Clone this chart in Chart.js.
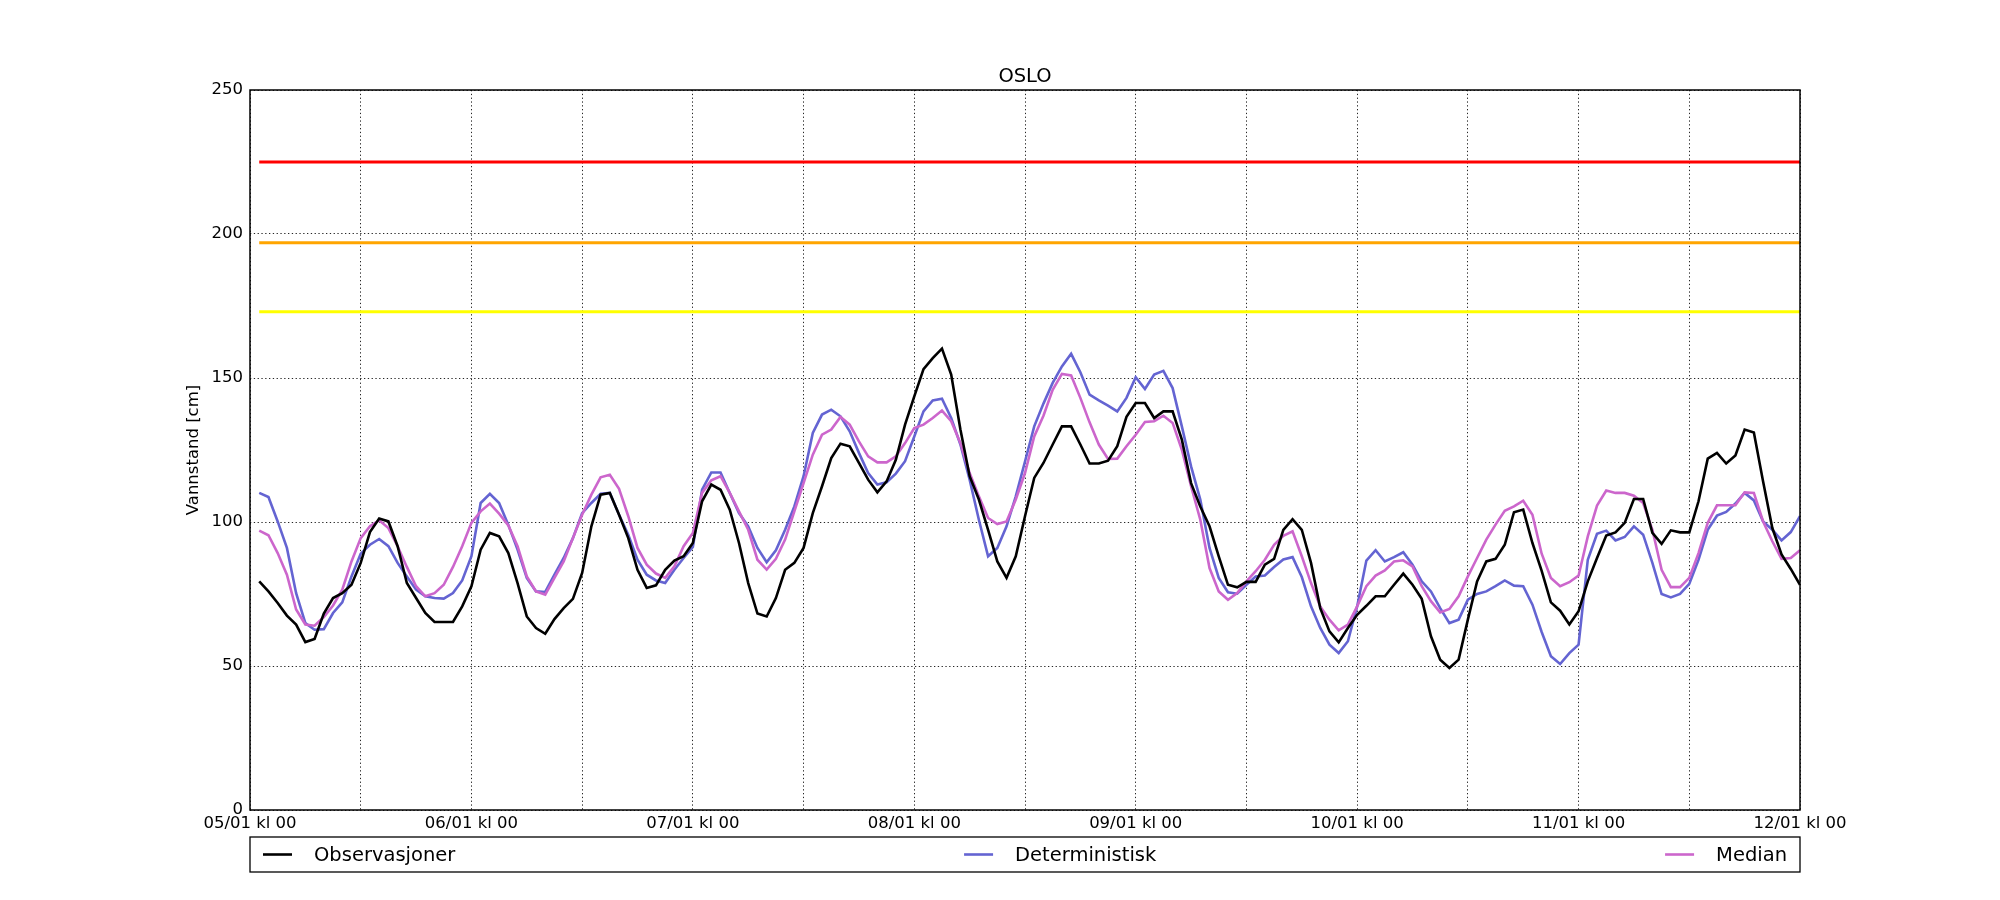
<!DOCTYPE html>
<html>
<head>
<meta charset="utf-8">
<title>OSLO</title>
<script src="https://cdn.jsdelivr.net/npm/chart.js@4.4.1/dist/chart.umd.min.js"></script>
<style>
  html, body { margin: 0; padding: 0; background: #fff; }
  canvas { display: block; }
</style>
</head>
<body>
<canvas id="chart" width="2000" height="900"></canvas>
<script>
// hours after 05/01 kl 00 (one reading per hour)
const hours = Array.from({ length: 168 }, (_, i) => i + 1);

const chartTitle = 'OSLO';
const dayLabels = ['05/01 kl 00', '06/01 kl 00', '07/01 kl 00', '08/01 kl 00',
  '09/01 kl 00', '10/01 kl 00', '11/01 kl 00', '12/01 kl 00'];
const yTicks = [0, 50, 100, 150, 200, 250];

const observasjoner = [
  79.4, 75.9, 71.9, 67.5, 64.4, 58.3, 59.4, 68.2, 73.6, 75.3, 78.2, 85.8, 96.5, 101.2, 100.2, 91.6, 78.8, 73.6, 68.4, 65.3, 65.3, 65.3, 70.7, 77.7, 90.4, 96.2, 95.0, 89.2,
  78.8, 67.2, 63.2, 61.2, 66.3, 70.1, 73.3, 82.3, 98.5, 109.5, 110.1, 102.5, 94.4, 83.4, 77.1, 78.0, 83.4, 86.6, 88.1, 92.7, 107.2, 113.0, 111.2, 104.3, 92.7, 78.8, 68.2, 67.2,
  73.6, 83.4, 85.8, 91.0, 103.1, 112.4, 122.2, 127.2, 126.3, 120.5, 114.7, 110.3, 114.1, 121.6, 133.8, 143.6, 153.1, 156.9, 160.2, 151.2, 132.1, 115.9, 107.8, 97.3, 86.3, 80.6, 88.1, 102.0,
  115.3, 120.5, 126.9, 133.2, 133.2, 126.9, 120.3, 120.3, 121.3, 126.3, 136.5, 141.3, 141.3, 136.1, 138.4, 138.4, 128.6, 113.5, 105.4, 98.5, 88.1, 78.2, 77.3, 79.2, 79.2, 85.2, 87.2, 97.3,
  101.0, 97.3, 85.8, 70.1, 62.0, 58.2, 63.2, 67.8, 70.9, 74.2, 74.2, 78.2, 82.1, 78.2, 73.3, 60.3, 52.2, 49.3, 52.2, 66.1, 79.4, 86.3, 87.2, 92.1, 103.4, 104.3, 92.7, 83.0,
  72.1, 69.2, 64.4, 69.0, 79.4, 87.5, 95.3, 96.4, 99.7, 108.0, 108.0, 96.2, 92.4, 97.1, 96.4, 96.4, 107.2, 122.0, 124.0, 120.3, 123.1, 132.1, 131.1, 114.1, 97.9, 88.7, 83.7, 78.2
];

const deterministisk = [
  110.1, 108.7, 100.2, 91.0, 75.3, 64.9, 62.6, 62.8, 68.4, 72.1, 81.1, 89.0, 92.1, 94.1, 91.6, 85.8, 81.1, 76.5, 74.2, 73.6, 73.4, 75.3, 79.7, 88.1, 106.6, 109.8, 106.6, 99.0,
  90.4, 80.6, 75.9, 75.7, 81.7, 87.5, 94.4, 103.1, 106.6, 109.8, 110.1, 102.5, 95.6, 86.9, 81.7, 79.7, 78.8, 83.4, 87.5, 91.3, 111.2, 117.2, 117.2, 110.1, 103.1, 98.5, 91.0, 86.0,
  90.2, 97.3, 105.4, 115.9, 130.9, 137.3, 139.0, 136.7, 131.5, 124.0, 117.0, 113.0, 113.8, 116.8, 121.1, 129.7, 138.4, 142.2, 142.8, 136.1, 126.9, 114.7, 100.8, 88.1, 91.0, 98.5, 108.9, 121.0,
  133.2, 141.1, 148.3, 154.0, 158.4, 152.0, 144.2, 142.2, 140.4, 138.4, 143.1, 150.3, 146.2, 151.2, 152.5, 146.5, 133.2, 119.3, 107.8, 91.0, 80.6, 75.6, 75.1, 78.2, 81.1, 81.4, 84.4, 87.0,
  87.8, 80.9, 70.7, 63.2, 57.4, 54.5, 58.6, 70.7, 86.6, 90.2, 86.3, 87.8, 89.5, 85.2, 79.4, 75.9, 70.1, 64.9, 66.1, 73.0, 75.0, 75.9, 77.7, 79.7, 77.9, 77.7, 71.3, 61.8,
  53.4, 50.7, 54.5, 57.4, 86.9, 95.9, 97.0, 93.6, 94.8, 98.5, 95.6, 85.8, 75.0, 73.8, 75.0, 78.5, 86.9, 97.3, 102.2, 103.5, 106.4, 110.1, 107.5, 100.2, 97.3, 93.6, 96.5, 102.0
];

const median = [
  97.0, 95.4, 89.2, 81.7, 69.6, 64.4, 64.0, 67.0, 71.0, 76.5, 86.3, 94.4, 98.5, 100.6, 97.9, 91.6, 84.4, 77.7, 74.2, 75.3, 78.2, 84.4, 91.6, 99.7, 103.7, 106.4, 102.9, 98.8,
  91.6, 81.1, 75.9, 74.8, 80.6, 86.3, 94.4, 102.5, 109.5, 115.5, 116.4, 111.5, 102.0, 91.0, 85.2, 82.1, 80.6, 84.6, 91.6, 96.2, 110.1, 114.5, 115.9, 110.1, 103.7, 97.3, 86.9, 83.5,
  87.2, 93.9, 103.7, 113.5, 123.4, 130.3, 132.1, 136.5, 133.8, 128.0, 122.8, 120.7, 120.7, 122.8, 127.4, 132.6, 133.8, 136.1, 138.7, 135.0, 127.4, 117.0, 108.9, 101.4, 99.3, 100.2, 107.8, 117.0,
  129.7, 136.9, 145.9, 151.4, 150.9, 143.1, 134.6, 126.9, 121.9, 122.0, 126.3, 130.3, 134.7, 135.0, 136.9, 134.4, 125.1, 112.4, 100.8, 84.0, 75.9, 73.0, 75.3, 79.4, 82.9, 86.9, 92.1, 95.2,
  96.8, 88.1, 78.8, 70.7, 66.1, 62.4, 64.4, 70.7, 77.7, 81.4, 83.2, 86.3, 86.7, 84.6, 77.7, 72.5, 68.6, 69.8, 74.2, 81.1, 87.5, 93.9, 99.1, 103.9, 105.4, 107.4, 102.5, 89.0,
  80.6, 77.7, 79.1, 81.4, 95.0, 105.7, 110.9, 110.1, 110.1, 109.1, 106.6, 97.3, 83.4, 77.4, 77.4, 80.6, 89.2, 99.7, 105.8, 105.8, 105.8, 110.3, 110.1, 100.2, 93.3, 87.2, 87.5, 90.2
];

// warning levels [cm]
const thresholdLevels = [225, 197, 173];
const thresholdColors = ['#ff0000', '#ffa500', '#ffff00'];

const seriesNames = ['Observasjoner', 'Deterministisk', 'Median'];
const seriesColors = ['#000000', '#6464d2', '#cc66cc'];

const FONT = '"DejaVu Sans", "Liberation Sans", sans-serif';
Chart.defaults.font.family = FONT;
Chart.defaults.color = '#000';

const toPoints = vals => vals.map((v, i) => ({ x: hours[i], y: v }));

const datasets = [];
[observasjoner, deterministisk, median].forEach((vals, i) => {
  datasets.push({
    label: seriesNames[i],
    data: toPoints(vals),
    borderColor: seriesColors[i],
    borderWidth: 2.6,
    pointRadius: 0,
    tension: 0,
    order: [0, 2, 1][i]
  });
});
thresholdLevels.forEach((lvl, i) => {
  datasets.push({
    label: 'level' + i,
    data: [{ x: hours[0], y: lvl }, { x: hours[hours.length - 1], y: lvl }],
    borderColor: thresholdColors[i],
    borderWidth: 3,
    pointRadius: 0,
    order: 5
  });
});

// black frame around the plot area + title centred over it
const frame = {
  id: 'frame',
  afterDatasetsDraw(chart) {
    const { ctx, chartArea: a } = chart;
    ctx.save();
    ctx.strokeStyle = '#000';
    ctx.lineWidth = 1.5;
    ctx.strokeRect(a.left, a.top, a.right - a.left, a.bottom - a.top);
    ctx.font = '19.5px ' + FONT;
    ctx.fillStyle = '#000';
    ctx.textAlign = 'center';
    ctx.textBaseline = 'middle';
    ctx.fillText(chartTitle, (a.left + a.right) / 2, a.top - 13);
    ctx.restore();
  }
};

// matplotlib style boxed legend below the axis, 3 columns expanded
const boxLegend = {
  id: 'boxLegend',
  afterDraw(chart) {
    const { ctx, chartArea: a } = chart;
    const top = a.bottom + 27, h = 35;
    const handle = 29, gap = 22, pad = 13;
    ctx.save();
    ctx.strokeStyle = '#000';
    ctx.lineWidth = 1.3;
    ctx.strokeRect(a.left, top, a.right - a.left, h);
    ctx.font = '19.5px ' + FONT;
    ctx.textBaseline = 'middle';
    const widths = seriesNames.map(n => handle + gap + ctx.measureText(n).width);
    const used = widths.reduce((s, w) => s + w, 0);
    const sep = (a.right - a.left - 2 * pad - used) / (seriesNames.length - 1);
    let x = a.left + pad;
    const y = top + h / 2;
    seriesNames.forEach((n, i) => {
      ctx.strokeStyle = seriesColors[i];
      ctx.lineWidth = 2.6;
      ctx.beginPath();
      ctx.moveTo(x, y);
      ctx.lineTo(x + handle, y);
      ctx.stroke();
      ctx.fillStyle = '#000';
      ctx.fillText(n, x + handle + gap, y + 1);
      x += widths[i] + sep;
    });
    ctx.restore();
  }
};

new Chart(document.getElementById('chart'), {
  type: 'line',
  data: { datasets },
  options: {
    responsive: false,
    animation: false,
    devicePixelRatio: 1,
    layout: { padding: { left: 180, right: 200, top: 90, bottom: 0 } },
    plugins: {
      legend: { display: false },
      tooltip: { enabled: false },
      title: { display: false }
    },
    scales: {
      x: {
        type: 'linear',
        min: 0,
        max: 168,
        afterFit: s => { s.height = 90; },
        ticks: {
          stepSize: 12,
          autoSkip: false,
          maxRotation: 0,
          padding: 4,
          font: { size: 16.5 },
          color: '#000',
          callback: v => (v % 24 === 0 ? dayLabels[v / 24] : '')
        },
        grid: { color: 'rgba(0,0,0,0.85)', lineWidth: 1, drawTicks: false },
        border: { display: false, dash: [1.3, 2.5] }
      },
      y: {
        min: 0,
        max: 250,
        afterFit: s => { s.width = 70; },
        afterBuildTicks: s => { s.ticks = yTicks.map(v => ({ value: v })); },
        title: {
          display: true,
          text: 'Vannstand [cm]',
          font: { size: 16.5 },
          color: '#000',
          padding: 4
        },
        ticks: { padding: 7, font: { size: 16.5 }, color: '#000' },
        grid: { color: 'rgba(0,0,0,0.85)', lineWidth: 1, drawTicks: false },
        border: { display: false, dash: [1.3, 2.5] }
      }
    }
  },
  plugins: [frame, boxLegend]
});
</script>
</body>
</html>
